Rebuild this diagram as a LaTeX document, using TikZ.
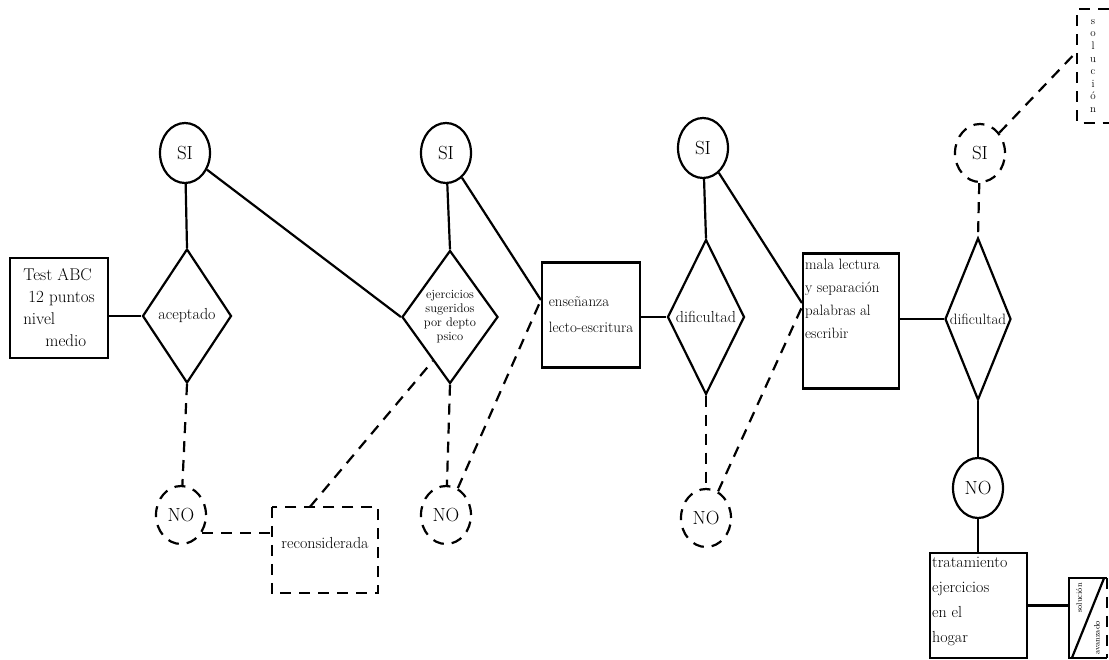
\documentclass[tikz,border=0pt]{standalone}
\usetikzlibrary{shapes.geometric,calc}
\begin{document}
\begin{tikzpicture}[x=1pt,y=-1pt,
  ln/.style={line width=2.2pt},
  dsh/.style={line width=2.2pt,dash pattern=on 11pt off 8pt},
  boxn/.style={draw,ln,rectangle,inner sep=0pt},
  dia/.style={draw,ln,diamond,inner sep=0pt},
  sic/.style={draw,ln,ellipse,minimum width=50pt,minimum height=60pt,inner sep=0pt,font=\fontsize{19}{21}\selectfont},
  nod/.style={draw,dsh,ellipse,minimum width=50pt,minimum height=58pt,inner sep=0pt,font=\fontsize{19}{21}\selectfont},
  txt/.style={font=\fontsize{16}{21}\selectfont,align=left,inner sep=0pt},
  stxt/.style={font=\fontsize{12.5}{14}\selectfont,align=center,inner sep=0pt}]
\useasboundingbox (0,0) rectangle (1109,660);

% boxes
\node[boxn,minimum width=98pt,minimum height=100pt] (test) at (59,308) {};
\node[txt,font=\fontsize{17}{22}\selectfont] (testt) at (test) {Test ABC\\\ 12 puntos\\nivel\\\quad\ medio};
\node[boxn,minimum width=98pt,minimum height=105pt] (ens) at (591,315) {};
\node[txt,font=\fontsize{15}{26}\selectfont] (enst) at (ens) {enseñanza\\lecto-escritura};
\node[boxn,minimum width=96pt,minimum height=135pt] (mala) at (851,321) {};
\node[txt,anchor=north west,font=\fontsize{15}{23}\selectfont] (malat) at ([xshift=3pt,yshift=-6pt]mala.north west) {mala lectura\\y separación\\palabras al\\escribir};
\node[boxn,minimum width=97pt,minimum height=105pt] (trat) at (978.5,605.5) {};
\node[txt,anchor=north west,font=\fontsize{16}{25}\selectfont] (tratt) at ([xshift=3pt,yshift=-5pt]trat.north west) {tratamiento\\ejercicios\\en el\\hogar};
\node[draw=none,minimum width=106pt,minimum height=86pt,inner sep=0pt] (recon) at (325,550) {};
\draw[dsh] (recon.north west) rectangle (recon.south east);
\node[txt] (recont) at (325,543) {reconsiderada};

% diamonds
\node[dia,minimum width=89pt,minimum height=134pt] (d1) at (187,316) {};
\node[txt] (d1t) at (d1) {aceptado};
\node[dia,minimum width=96pt,minimum height=133pt] (d2) at (450,317) {};
\node[stxt] (d2t) at (d2) {ejercicios\\sugeridos\\por depto\\psico};
\node[dia,minimum width=77pt,minimum height=155pt] (d3) at (706,317) {};
\node[txt] (d3t) at (d3) {dificultad};
\node[dia,minimum width=66pt,minimum height=162pt] (d4) at (978,319) {};
\node[txt,font=\fontsize{15}{18}\selectfont] (d4t) at (d4) {dificultad};

% SI / NO
\node[sic] (si1) at (185,153) {SI};
\node[sic] (si2) at (446,153) {SI};
\node[sic] (si3) at (703,148) {SI};
\node[nod] (si4) at (980,153) {SI};
\node[nod] (no1) at (181,515) {NO};
\node[nod] (no2) at (446,515) {NO};
\node[nod] (no3) at (706,518) {NO};
\node[sic] (no4) at (978,488) {NO};

% right boxes
\node[draw=none,minimum width=31pt,minimum height=114pt,inner sep=0pt] (sol1) at (1093,66) {};
\draw[dsh] (sol1.north east) -- (sol1.north west) -- (sol1.south west) -- (sol1.south east);
\node[font=\fontsize{11}{12.6}\selectfont,align=center,inner sep=0pt] (sol1t) at (1093,66) {s\\o\\l\\u\\c\\i\\ó\\n};
\node[draw=none,minimum width=38pt,minimum height=80pt,inner sep=0pt] (sol2) at (1088,618) {};
\draw[ln] (sol2.north east) -- (sol2.north west) -- (sol2.south west) -- (sol2.south east);
\draw[dsh] (sol2.north east) -- (sol2.south east);
\draw[ln] ([xshift=3pt]sol2.south west) -- ([xshift=-3pt]sol2.north east);
\node[font=\fontsize{8}{9}\selectfont,rotate=90,inner sep=0pt] (sol2a) at (1079,598) {solución};
\node[font=\fontsize{8}{9}\selectfont,rotate=90,inner sep=0pt] (sol2b) at (1097,638) {avanzado};

% connectors
\draw[ln] (test.east |- d1.west) -- (d1.west);
\draw[ln] (si1) -- (d1.north);
\draw[ln] (si1) -- (d2.west);
\draw[dsh] (d1.south) -- (no1);
\draw[dsh] (no1.-40) -- (no1.-40 -| recon.west);
\draw[dsh] ([xshift=-15pt]recon.north) -- ($(d2.west)!0.65!(d2.south)$);
\draw[ln] (si2) -- (d2.north);
\draw[dsh] (d2.south) -- (no2);
\draw[ln] (si2) -- ([yshift=15pt]ens.west);
\draw[dsh] (no2) -- ([yshift=15pt]ens.west);
\draw[ln] (ens.east |- d3.west) -- (d3.west);
\draw[ln] (si3) -- (d3.north);
\draw[dsh] (d3.south) -- (no3);
\draw[ln] (si3) -- ([yshift=18pt]mala.west);
\draw[dsh] (no3) -- ([yshift=14pt]mala.west);
\draw[ln] (mala.east |- d4.west) -- (d4.west);
\draw[dsh] (si4) -- (d4.north);
\draw[dsh] (si4) -- ([yshift=15pt]sol1.west);
\draw[ln] (d4.south) -- (no4);
\draw[ln] (no4) -- (no4 |- trat.north);
\draw[ln] (trat.east) -- (trat.east -| sol2.west);
\end{tikzpicture}
\end{document}
